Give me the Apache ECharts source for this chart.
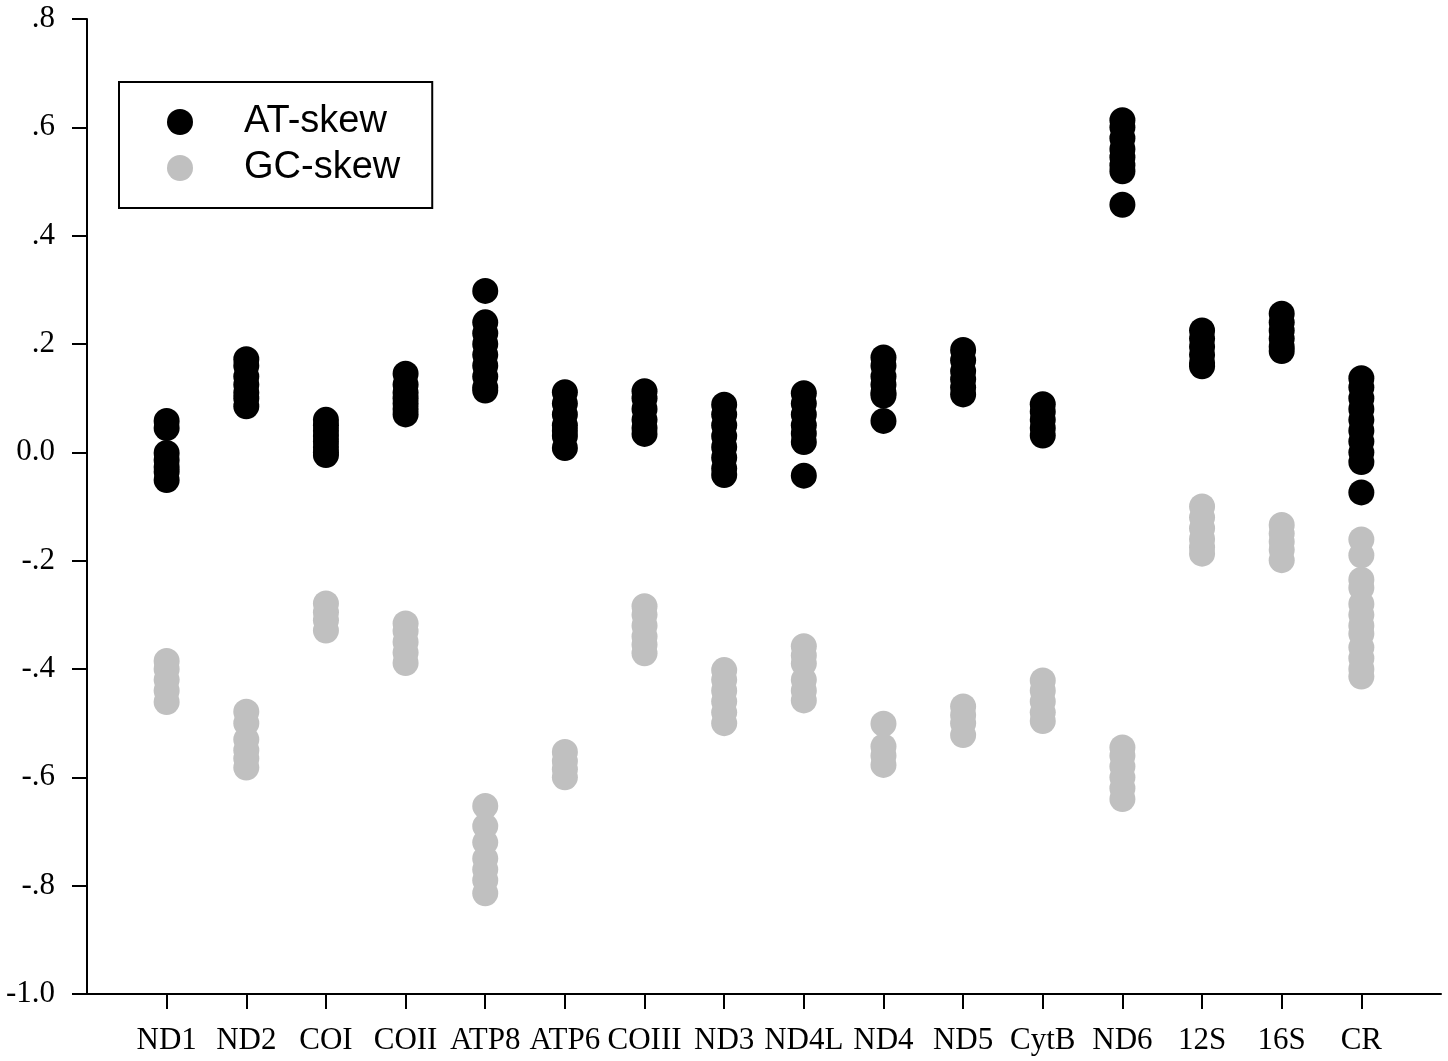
<!DOCTYPE html>
<html>
<head>
<meta charset="utf-8">
<script src="https://cdn.jsdelivr.net/npm/echarts@6/dist/echarts.min.js"></script>
<style>
html,body{margin:0;padding:0;background:#fff;}
#chart{width:1448px;height:1061px;}
</style>
</head>
<body>
<div id="chart"></div>
<script>
// ---- data ----
var categories = ['ND1','ND2','COI','COII','ATP8','ATP6','COIII','ND3','ND4L','ND4','ND5','CytB','ND6','12S','16S','CR'];

var atSkew = [
  [0.058, 0.045, -0.001, -0.014, -0.027, -0.036, -0.051],
  [0.172, 0.16, 0.14, 0.125, 0.11, 0.10, 0.085],
  [0.06, 0.05, 0.04, 0.03, 0.02, 0.01, 0.0, -0.005],
  [0.145, 0.125, 0.11, 0.10, 0.09, 0.08, 0.07],
  [0.298, 0.24, 0.22, 0.20, 0.18, 0.16, 0.14, 0.12, 0.114],
  [0.111, 0.09, 0.07, 0.05, 0.04, 0.03, 0.008],
  [0.113, 0.10, 0.08, 0.06, 0.045, 0.034],
  [0.088, 0.07, 0.05, 0.03, 0.01, -0.01, -0.03, -0.042],
  [0.109, 0.09, 0.07, 0.05, 0.035, 0.019, -0.043],
  [0.175, 0.16, 0.14, 0.125, 0.11, 0.105, 0.058],
  [0.189, 0.17, 0.15, 0.135, 0.12, 0.107],
  [0.089, 0.075, 0.06, 0.045, 0.031],
  [0.613, 0.60, 0.58, 0.56, 0.545, 0.53, 0.519, 0.457],
  [0.225, 0.21, 0.195, 0.18, 0.165, 0.159],
  [0.256, 0.24, 0.225, 0.21, 0.195, 0.187],
  [0.137, 0.12, 0.10, 0.08, 0.06, 0.04, 0.02, 0.0, -0.018, -0.074]
];

var gcSkew = [
  [-0.385, -0.40, -0.42, -0.44, -0.461],
  [-0.479, -0.50, -0.53, -0.55, -0.565, -0.582],
  [-0.279, -0.295, -0.31, -0.329],
  [-0.316, -0.33, -0.35, -0.37, -0.389],
  [-0.653, -0.69, -0.72, -0.75, -0.77, -0.79, -0.814],
  [-0.553, -0.57, -0.585, -0.60],
  [-0.284, -0.30, -0.32, -0.34, -0.355, -0.371],
  [-0.402, -0.42, -0.44, -0.46, -0.48, -0.50],
  [-0.358, -0.375, -0.39, -0.42, -0.44, -0.458],
  [-0.501, -0.543, -0.56, -0.577],
  [-0.469, -0.485, -0.50, -0.522],
  [-0.421, -0.44, -0.46, -0.48, -0.496],
  [-0.545, -0.56, -0.58, -0.60, -0.62, -0.64],
  [-0.100, -0.12, -0.14, -0.16, -0.175, -0.187],
  [-0.134, -0.15, -0.165, -0.18, -0.199],
  [-0.161, -0.19, -0.235, -0.25, -0.28, -0.30, -0.32, -0.335, -0.36, -0.38, -0.40, -0.414]
];

var seriesNames = ['AT-skew', 'GC-skew'];
var yTicks = { min: -1.0, max: 0.8, step: 0.2 };

// ---- build ----
var axisCats = [''].concat(categories, ['']);
function toPoints(groups) {
  var out = [];
  groups.forEach(function (vals, i) {
    vals.forEach(function (v) { out.push([categories[i], v]); });
  });
  return out;
}
function fmtY(v) {
  var r = Math.round(v * 10) / 10;
  if (r === 0) return '0.0';
  if (r === -1) return '-1.0';
  var s = r.toFixed(1);
  return s.replace('0.', '.');
}

var chart = echarts.init(document.getElementById('chart'), null, { renderer: 'canvas' });
chart.setOption({
  animation: false,
  backgroundColor: '#ffffff',
  grid: { left: 87, right: 7, top: 19, bottom: 67, containLabel: false },
  legend: {
    orient: 'vertical',
    left: 119,
    top: 82,
    padding: [21, 32, 21, 48],
    itemGap: 8,
    itemWidth: 26,
    itemHeight: 26,
    icon: 'circle',
    borderColor: '#000',
    borderWidth: 2,
    formatter: '{t|{name}}',
    textStyle: {
      fontFamily: 'Liberation Sans, Arial, sans-serif', fontSize: 38, color: '#000',
      rich: { t: { fontFamily: 'Liberation Sans, Arial, sans-serif', fontSize: 38, color: '#000', padding: [0, 0, 0, 46] } }
    },
    data: seriesNames
  },
  xAxis: {
    type: 'category',
    data: axisCats,
    boundaryGap: false,
    axisLine: { show: true, onZero: false, lineStyle: { color: '#000', width: 2 } },
    axisTick: { show: true, length: 15, lineStyle: { color: '#000', width: 2 },
      interval: function (i) { return i > 0 && i < axisCats.length - 1; } },
    axisLabel: { interval: 0, margin: 31, color: '#000', fontFamily: 'Liberation Serif, Times New Roman, serif', fontSize: 31 },
    splitLine: { show: false }
  },
  yAxis: {
    type: 'value',
    min: yTicks.min,
    max: yTicks.max,
    interval: yTicks.step,
    axisLine: { show: true, lineStyle: { color: '#000', width: 2 } },
    axisTick: { show: true, length: 15, lineStyle: { color: '#000', width: 2 } },
    axisLabel: { margin: 32, color: '#000', fontFamily: 'Liberation Serif, Times New Roman, serif', fontSize: 31, formatter: fmtY },
    splitLine: { show: false }
  },
  series: [
    {
      name: seriesNames[1], type: 'scatter', symbol: 'circle', symbolSize: 26,
      itemStyle: { color: '#c0c0c0', opacity: 1 },
      data: toPoints(gcSkew)
    },
    {
      name: seriesNames[0], type: 'scatter', symbol: 'circle', symbolSize: 26,
      itemStyle: { color: '#000000', opacity: 1 },
      data: toPoints(atSkew)
    }
  ]
});
</script>
</body>
</html>
